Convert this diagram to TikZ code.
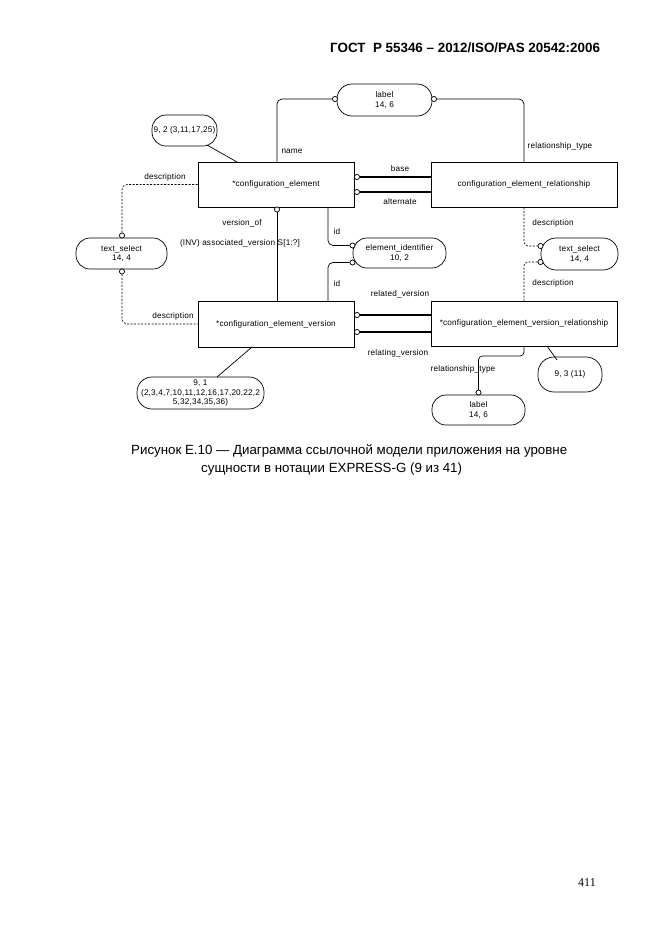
\documentclass[tikz,border=0pt]{standalone}
\usepackage{fontspec}
\setmainfont{Liberation Sans}
\newfontfamily\dia[LetterSpace=2]{Liberation Sans}
\newfontfamily\serifnum{Liberation Serif}
\begin{document}
\begin{tikzpicture}[x=1pt,y=-1pt,
  lab/.style={font=\dia\fontsize{8.2}{9.8}\selectfont, inner sep=0pt, align=center},
  ent/.style={draw, line width=0.8pt, inner sep=0pt, lab},
  typ/.style={draw, line width=0.7pt, rounded corners=14pt, inner sep=0pt, lab},
  circ/.style={circle, draw, fill=white, line width=0.6pt, minimum size=5pt, inner sep=0pt},
  ln/.style={line width=0.7pt},
  tk/.style={line width=1.4pt},
  dsh/.style={line width=0.6pt, dash pattern=on 2pt off 1.5pt},
]
\useasboundingbox[fill=white] (0,0) rectangle (662,935);

% header, caption, page number
\node[anchor=base west, inner sep=0pt, font=\bfseries\fontsize{13.4}{15}\selectfont] (hdr) at (330,52) {ГОСТ\ \ Р 55346 – 2012/ISO/PAS 20542:2006};
\node[anchor=base west, inner sep=0pt, font=\fontsize{13.3}{15}\selectfont] (cap1) at (131,454) {Рисунок Е.10 — Диаграмма ссылочной модели приложения на уровне};
\node[anchor=base west, inner sep=0pt, font=\fontsize{13.3}{15}\selectfont] (cap2) at (201,472) {сущности в нотации EXPRESS-G (9 из 41)};
\node[anchor=base, inner sep=0pt, font=\serifnum\fontsize{12}{14}\selectfont] (pg) at (587,886) {411};

% entities
\node[ent, minimum width=156pt, minimum height=45pt] (ce) at (276,184.5) {*configuration\_element};
\node[ent, minimum width=186pt, minimum height=45pt] (cer) at (524,184.5) {configuration\_element\_relationship};
\node[ent, minimum width=156pt, minimum height=46pt] (cev) at (276,324) {*configuration\_element\_version};
\node[ent, minimum width=186pt, minimum height=45pt] (cevr) at (524,323.5) {*configuration\_element\_version\_relationship};

% types / ovals
\node[typ, rounded corners=15pt, minimum width=95pt, minimum height=32pt] (lbl1) at (384.5,100) {label\\14, 6};
\node[typ, minimum width=65pt, minimum height=31pt] (o92) at (184.5,130.5) {9, 2 (3,11,17,25)};
\node[typ, minimum width=91pt, minimum height=31pt] (ts1) at (121.5,253.5) {text\_select\\14, 4};
\node[typ, minimum width=93pt, minimum height=30pt] (ei) at (399.5,253) {element\_identifier\\10, 2};
\node[typ, rounded corners=15pt, minimum width=77pt, minimum height=32pt] (ts2) at (579.5,254) {text\_select\\14, 4};
\node[typ, minimum width=93pt, minimum height=30pt] (lbl2) at (478.5,410) {label\\14, 6};
\node[typ, rounded corners=16pt, minimum width=64pt, minimum height=35pt] (o93) at (570,374.5) {9, 3 (11)};
\node[typ, rounded corners=15pt, minimum width=127pt, minimum height=32pt] (o91) at (200.5,393) {9, 1\\(2,3,4,7,10,11,12,16,17,20,22,2\\5,32,34,35,36)};

% circles
\node[circ] (cn1) at (335,99) {};
\node[circ] (cn2) at (434,99) {};
\node[circ] (cb) at (357,177) {};
\node[circ] (ca) at (357,192) {};
\node[circ] (cts1) at (122,235.5) {};
\node[circ] (cts2) at (122,271.5) {};
\node[circ] (cvo) at (277,209.5) {};
\node[circ] (cei1) at (352.5,245.5) {};
\node[circ] (cei2) at (352.5,262.5) {};
\node[circ] (cts3) at (540.5,246) {};
\node[circ] (cts4) at (540.5,262) {};
\node[circ] (crv) at (357,315) {};
\node[circ] (crl) at (357,332) {};
\node[circ] (crt) at (478.5,392.5) {};

% helper coordinates
\coordinate (p92) at (207,145);
\coordinate (q92) at (237,162);
\coordinate (id1) at (328,207);
\coordinate (id2) at (328,301);
\coordinate (rt) at (478.5,356);
\coordinate (rt2) at (478.5,360);
\coordinate (p93) at (547,346);
\coordinate (q93) at (557,360);
\coordinate (p91) at (252,347);
\coordinate (q91) at (217,377);

% connectors
\draw[ln, rounded corners=5pt] (ce.north -| cvo) |- (cn1);
\draw[ln, rounded corners=5pt] (cn2) -| (cer.north);
\draw[ln] (p92) -- (q92);
\draw[tk] (cb) -- (cb -| cer.west);
\draw[tk] (ca) -- (ca -| cer.west);
\draw[dsh, rounded corners=5pt] (ce.west) -| (cts1);
\draw[dsh, rounded corners=5pt] (cts2) |- (cev.west);
\draw[ln] (cvo) -- (cvo |- cev.north);
\draw[ln, rounded corners=5pt] (id1) |- (cei1);
\draw[ln, rounded corners=5pt] (id2) |- (cei2);
\draw[dsh, rounded corners=4pt] (cer.south) |- (cts3);
\draw[dsh, rounded corners=4pt] (cts4) -| (cevr.north);
\draw[tk] (crv) -- (crv -| cevr.west);
\draw[tk] (crl) -- (crl -| cevr.west);
\draw[ln, rounded corners=4pt] (cevr.south) |- (rt) -- (rt2);
\draw[tk] (rt2) -- (crt);
\draw[ln] (p93) -- (q93);
\draw[ln] (p91) -- (q91);

% redraw circles on top
\foreach \c in {cn1,cn2,cb,ca,cts1,cts2,cvo,cei1,cei2,cts3,cts4,crv,crl,crt}
  \draw[fill=white, line width=0.6pt] (\c) circle (2.5pt);

% attribute labels
\node[lab] (tname) at (292,151) {name};
\node[lab] (trt1) at (560,146) {relationship\_type};
\node[lab] (tbase) at (400,169) {base};
\node[lab] (talt) at (400,202) {alternate};
\node[lab] (tdesc1) at (165,177) {description};
\node[lab] (tdesc2) at (173,316) {description};
\node[lab] (tvo) at (242,223) {version\_of};
\node[lab] (tinv) at (240,243) {(INV) associated\_version S[1:?]};
\node[lab] (tid1) at (337,232) {id};
\node[lab] (tid2) at (337,284) {id};
\node[lab] (tdesc3) at (553,223) {description};
\node[lab] (tdesc4) at (553,283) {description};
\node[lab] (trv) at (400,294) {related\_version};
\node[lab] (trl) at (398,353) {relating\_version};
\node[lab] (trt2) at (463,369) {relationship\_type};
\end{tikzpicture}
\end{document}
